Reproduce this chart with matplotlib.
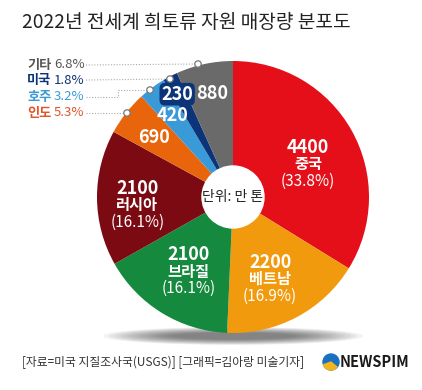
import numpy as np
import matplotlib.pyplot as plt
from matplotlib.patches import Circle, Ellipse, Wedge

plt.rcParams['font.family'] = ['Noto Sans CJK KR', 'DejaVu Sans']

# data
names = ['중국', '베트남', '브라질', '러시아', '인도', '호주', '미국', '기타']
values = [4400, 2200, 2100, 2100, 690, 420, 230, 880]
pcts = [33.8, 16.9, 16.1, 16.1, 5.3, 3.2, 1.8, 6.8]
colors = ['#e50f1a', '#f29a0e', '#15893d', '#7c0a12', '#e8650c', '#3a9ad8', '#0c3479', '#6a6a6a']

legend_names = ['기타', '미국', '호주', '인도']
legend_pcts = [6.8, 1.8, 3.2, 5.3]
legend_colors = ['#555555', '#0c3479', '#3a9ad8', '#e0552a']

W, H = 422, 390
fig = plt.figure(figsize=(W / 100, H / 100), dpi=100)
ax = fig.add_axes([0, 0, 1, 1])

def Y(y):
    return H - y

cx, cy, R = 233, Y(197), 136

# soft shadow under the pie
for i in range(12):
    ax.add_patch(Ellipse((cx, Y(336)), 260 - i * 12, 18 - i * 1.0,
                         color='#000000', alpha=0.05, lw=0, zorder=1))

ax.pie(values, colors=colors, startangle=90, counterclock=False,
       center=(cx, cy), radius=R, frame=True,
       wedgeprops=dict(linewidth=0, zorder=2))
ax.set_xlim(0, W)
ax.set_ylim(0, H)
ax.set_aspect('equal')
ax.axis('off')

# label placement (radius, angle deg) per wedge
label_pos = [(82, 23.7), (90, -65.7), (87, -121), (96, 184.8),
             (99, 143.2), (102, 126.6), (117, 118.5), (106, 101.4)]

for i, (v, n, p) in enumerate(zip(values, names, pcts)):
    r, a = label_pos[i]
    x = cx + r * np.cos(np.radians(a))
    y = cy + r * np.sin(np.radians(a))
    if i < 4:
        ax.text(x, y + 17, str(v), color='white', fontsize=13, fontweight='bold',
                ha='center', va='center', zorder=5)
        ax.text(x, y, n, color='white', fontsize=11, fontweight='bold',
                ha='center', va='center', zorder=5)
        ax.text(x, y - 17, f'({p}%)', color='white', fontsize=11,
                ha='center', va='center', zorder=5)
    elif i == 6:
        ax.text(x, y, str(v), color='white', fontsize=13, fontweight='bold',
                ha='center', va='center', zorder=5,
                bbox=dict(boxstyle='round,pad=0.1,rounding_size=0.3',
                          fc=colors[6], ec='none'))
    else:
        ax.text(x, y, str(v), color='white', fontsize=13, fontweight='bold',
                ha='center', va='center', zorder=5)

# center hole
ax.add_patch(Circle((cx, cy), 31, color='white', zorder=4))
ax.text(cx, cy, '단위: 만 톤', fontsize=10, color='#222222',
        ha='center', va='center', zorder=5)

# title
ax.text(22, Y(22), '2022년 전세계 희토류 자원 매장량 분포도', fontsize=13.8,
        color='#222222', ha='left', va='center')

# legend with leader lines
leg_y = [65, 80, 97, 113]
dots = [(198, 64), (170, 79), (150, 90), (127, 113)]
for i in range(4):
    y = Y(leg_y[i])
    ax.text(27, y, legend_names[i], fontsize=9.5, fontweight='bold',
            color=legend_colors[i], ha='left', va='center')
    ax.text(54, y, f'{legend_pcts[i]}%', fontsize=9.5,
            color=legend_colors[i], ha='left', va='center')
    dx, dy = dots[i]
    if i == 2:
        ax.plot([86, 118, 118, dx], [y, y, Y(dy), Y(dy)], color='#aaaaaa',
                lw=0.8, ls=(0, (1, 1.5)), zorder=3)
    else:
        ax.plot([86, dx], [y, Y(dy)], color='#aaaaaa', lw=0.8,
                ls=(0, (1, 1.5)), zorder=3)
    ax.add_patch(Circle((dx, Y(dy)), 3.2, fc='white', ec='#777777', lw=0.9, zorder=6))

# footer
ax.text(22, Y(362), '[자료=미국 지질조사국(USGS)] [그래픽=김아랑 미술기자]',
        fontsize=8.5, color='#333333', ha='left', va='center')
ax.add_patch(Circle((331, Y(362)), 8, color='#1a6fc0', zorder=3))
ax.add_patch(Wedge((331, Y(362)), 8, 200, 320, color='#f2b51c', zorder=4))
ax.text(340, Y(362), 'NEWSPIM', fontsize=10.5, fontweight='bold',
        color='#1a1a1a', ha='left', va='center')

fig.savefig('out.png', dpi=100)
